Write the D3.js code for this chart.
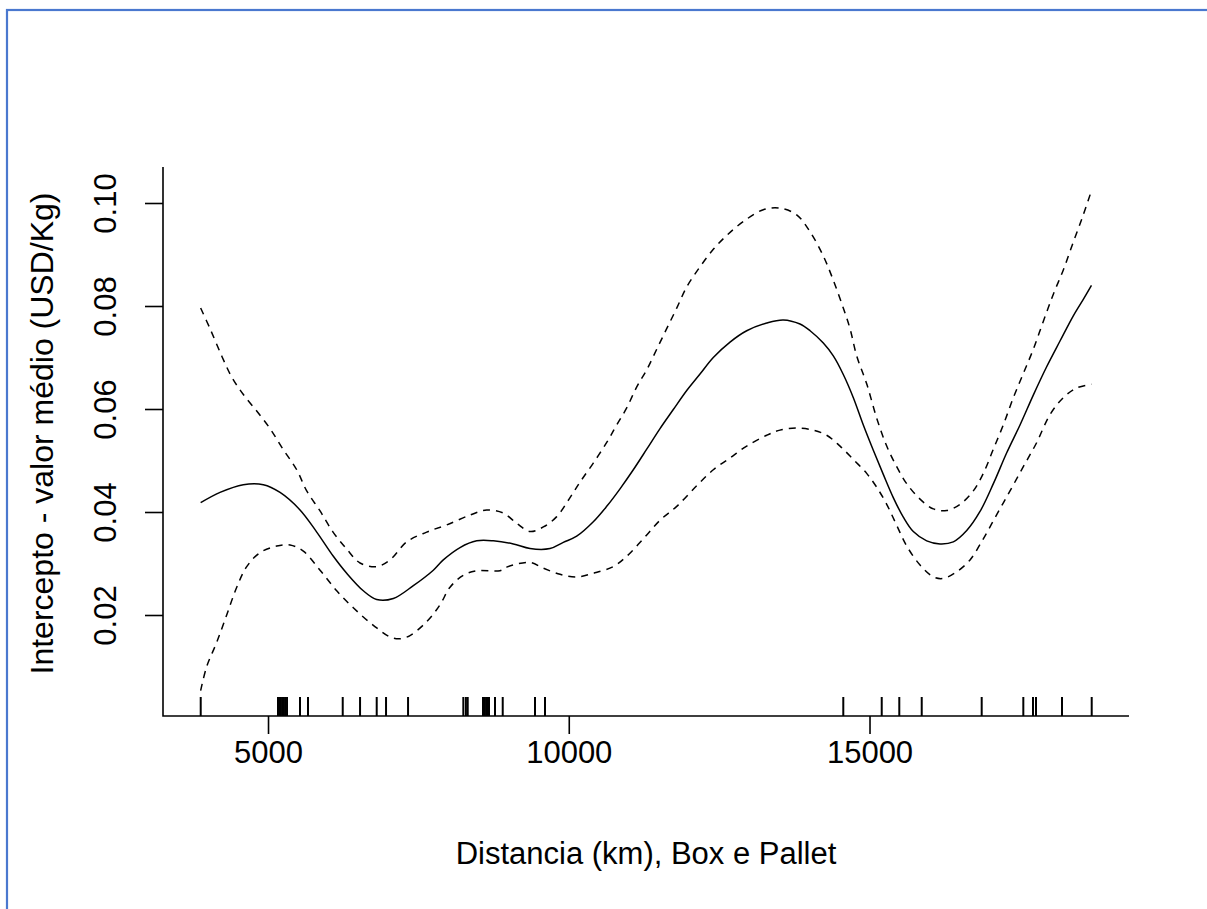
<!DOCTYPE html>
<html>
<head>
<meta charset="utf-8">
<script src="https://cdn.jsdelivr.net/npm/d3@7"></script>
<style>
body{margin:0;background:#fff;}
text{font-family:"Liberation Sans",Arial,sans-serif;fill:#000;}
</style>
</head>
<body>
<script>
// smooth fit (distance in km, value in USD/Kg)
var fitDist=[3880,4202,4589,4922,5200,5532,5810,6086,6308,6584,6807,7083,7416,7748,7914,8192,8470,8746,9078,9356,9688,9909,10132,10408,10631,10852,11073,11296,11517,11738,11961,12182,12403,12681,12958,13291,13567,13844,14012,14232,14398,14564,14731,14897,15063,15229,15395,15562,15728,15951,16172,16393,16616,16837,17059,17281,17502,17723,17945,18167,18388,18554,18690];
var fitVal=[0.0418,0.0438,0.0453,0.0453,0.0438,0.0404,0.0361,0.0314,0.0281,0.0247,0.0230,0.0232,0.0257,0.0287,0.0307,0.0331,0.0344,0.0344,0.0338,0.0329,0.0329,0.0341,0.0353,0.0381,0.0411,0.0445,0.0482,0.0522,0.0562,0.0599,0.0636,0.0668,0.0700,0.0730,0.0752,0.0767,0.0773,0.0765,0.0752,0.0728,0.0703,0.0667,0.0622,0.0569,0.0520,0.0473,0.0428,0.0390,0.0362,0.0344,0.0338,0.0342,0.0364,0.0401,0.0455,0.0515,0.0569,0.0627,0.0682,0.0732,0.0781,0.0813,0.0840];

// upper band
var upperDist=[3880,4036,4230,4397,4584,4812,5033,5249,5477,5643,5865,6081,6308,6530,6807,7028,7306,7638,7971,8358,8636,8912,9135,9356,9577,9800,10021,10187,10408,10631,10797,10963,11130,11296,11462,11628,11795,11961,12182,12403,12626,12902,13234,13512,13789,14012,14232,14398,14564,14676,14787,14953,15120,15286,15452,15618,15840,16061,16283,16505,16726,16892,17059,17224,17391,17557,17723,17889,18056,18222,18388,18554,18690];
var upperVal=[0.0796,0.0756,0.0703,0.0662,0.0629,0.0596,0.0562,0.0522,0.0482,0.0441,0.0402,0.0361,0.0328,0.0301,0.0294,0.0307,0.0342,0.0361,0.0375,0.0394,0.0404,0.0398,0.0378,0.0362,0.0371,0.0391,0.0428,0.0458,0.0495,0.0535,0.0569,0.0602,0.0643,0.0676,0.0716,0.0756,0.0796,0.0837,0.0876,0.0910,0.0937,0.0964,0.0987,0.0990,0.0977,0.0944,0.0897,0.0850,0.0796,0.0756,0.0703,0.0649,0.0582,0.0528,0.0488,0.0455,0.0425,0.0406,0.0403,0.0415,0.0441,0.0475,0.0522,0.0569,0.0622,0.0669,0.0716,0.0770,0.0823,0.0870,0.0924,0.0977,0.1024];

// lower band
var lowerDist=[3880,3981,4147,4313,4480,4646,4867,5145,5366,5587,5865,6142,6418,6751,7083,7306,7638,7860,8026,8247,8470,8857,8968,9356,9577,9855,10132,10408,10741,10963,11240,11517,11795,12127,12403,12681,12958,13291,13512,13789,14066,14288,14510,14731,14953,15120,15286,15452,15618,15840,16061,16227,16450,16671,16892,17115,17336,17557,17780,18000,18222,18445,18690];
var lowerVal=[0.0053,0.0100,0.0147,0.0200,0.0254,0.0294,0.0321,0.0334,0.0336,0.0324,0.0287,0.0247,0.0214,0.0180,0.0155,0.0157,0.0187,0.0220,0.0254,0.0277,0.0286,0.0286,0.0293,0.0302,0.0291,0.0279,0.0274,0.0281,0.0294,0.0314,0.0348,0.0384,0.0411,0.0451,0.0482,0.0505,0.0528,0.0549,0.0559,0.0563,0.0559,0.0549,0.0528,0.0502,0.0475,0.0448,0.0415,0.0374,0.0334,0.0297,0.0274,0.0271,0.0284,0.0307,0.0348,0.0395,0.0441,0.0488,0.0535,0.0589,0.0622,0.0641,0.0648];

// rug of observed distances
var rugDist=[3881,5166,5190,5215,5240,5265,5290,5316,5532,5665,6242,6530,6807,6962,7328,8247,8290,8320,8574,8600,8625,8650,8674,8774,8902,9439,9605,14564,15203,15495,15868,16865,17557,17718,17768,18200,18694];

var xTicks=[5000,10000,15000];
var yTicks=[0.02,0.04,0.06,0.08,0.10];
var xTitle="Distancia (km), Box e Pallet";
var yTitle="Intercepto - valor médio (USD/Kg)";

var drawGraph=function()
{
  var scren={width:1207,height:909};
  var svg=d3.select("body").append("svg")
            .attr("width",scren.width)
            .attr("height",scren.height);

  // the blue frame around the picture
  svg.append("rect")
     .attr("x",7).attr("y",10)
     .attr("width",1400).attr("height",1200)
     .attr("fill","none")
     .attr("stroke","#4a78cf")
     .attr("stroke-width",2.2);

  var box={left:163,right:1129,top:167,bottom:716};

  var xScale=d3.scaleLinear()
               .domain([3254,19314])
               .range([box.left,box.right]);
  var yScale=d3.scaleLinear()
               .domain([0.000388,0.10699])
               .range([box.bottom,box.top]);

  var fontSize=31;

  // L shaped box
  svg.append("path")
     .attr("d","M"+box.left+","+box.top+"V"+box.bottom+"H"+box.right)
     .attr("fill","none")
     .attr("stroke","#000")
     .attr("stroke-width",1.6);

  var xAxis=d3.axisBottom(xScale).tickValues(xTicks).tickSize(18).tickPadding(7).tickFormat(d3.format("d"));
  var yAxis=d3.axisLeft(yScale).tickValues(yTicks).tickSize(18).tickPadding(0).tickFormat(d3.format(".2f"));

  var gx=svg.append("g").classed("xAxis",true)
     .attr("transform","translate(0,"+box.bottom+")")
     .call(xAxis);
  gx.select(".domain").remove();
  gx.selectAll("line").attr("stroke","#000").attr("stroke-width",1.6);
  gx.selectAll("text")
    .attr("font-size",fontSize)
    .attr("font-family","Liberation Sans, Arial, sans-serif")
    .attr("dy","0.71em");

  var gy=svg.append("g").classed("yAxis",true)
     .attr("transform","translate("+box.left+",0)")
     .call(yAxis);
  gy.select(".domain").remove();
  gy.selectAll("line").attr("stroke","#000").attr("stroke-width",1.6);
  gy.selectAll("text")
    .attr("font-size",fontSize)
    .attr("font-family","Liberation Sans, Arial, sans-serif")
    .attr("text-anchor","middle")
    .attr("x",null).attr("dy",null)
    .attr("transform","translate(-47,0) rotate(-90)");

  // curves
  var line=d3.line()
             .x(function(d){return xScale(d[0]);})
             .y(function(d){return yScale(d[1]);})
             .curve(d3.curveCatmullRom.alpha(0.5));

  var fit=fitDist.map(function(d,i){return [d,fitVal[i]];});
  var upper=upperDist.map(function(d,i){return [d,upperVal[i]];});
  var lower=lowerDist.map(function(d,i){return [d,lowerVal[i]];});

  var plotLand=svg.append("g").classed("plot",true);

  plotLand.append("path")
          .datum(fit)
          .attr("d",line)
          .attr("fill","none")
          .attr("stroke","#000")
          .attr("stroke-width",1.5);

  [upper,lower].forEach(function(band){
    plotLand.append("path")
            .datum(band)
            .attr("d",line)
            .attr("fill","none")
            .attr("stroke","#000")
            .attr("stroke-width",1.5)
            .attr("stroke-dasharray","7,6");
  });

  // rug
  plotLand.selectAll("line.rug")
          .data(rugDist)
          .enter()
          .append("line")
          .classed("rug",true)
          .attr("x1",function(d){return xScale(d);})
          .attr("x2",function(d){return xScale(d);})
          .attr("y1",box.bottom-19)
          .attr("y2",box.bottom)
          .attr("stroke","#000")
          .attr("stroke-width",2);

  // titles
  svg.append("text")
     .attr("x",(box.left+box.right)/2)
     .attr("y",864)
     .attr("text-anchor","middle")
     .attr("font-size",fontSize)
     .text(xTitle);

  svg.append("text")
     .attr("transform","translate(53,"+((box.top+box.bottom)/2-8)+") rotate(-90)")
     .attr("text-anchor","middle")
     .attr("font-size",fontSize+1)
     .text(yTitle);
};

drawGraph();
</script>
</body>
</html>
